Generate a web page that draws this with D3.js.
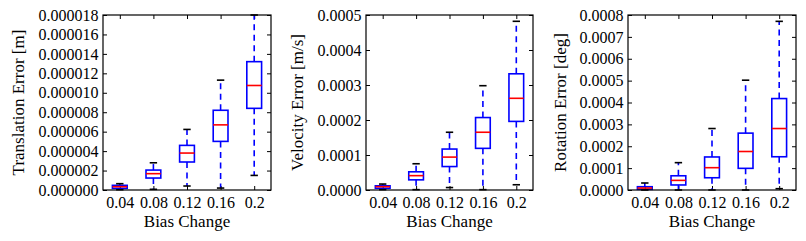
<!DOCTYPE html>
<html>
<head>
<meta charset="utf-8">
<script src="https://cdn.jsdelivr.net/npm/d3@7"></script>
<style>
  body { margin: 0; background: #fff; }
  svg { display: block; }
  text { font-family: "Liberation Serif", "DejaVu Serif", serif; fill: #000; }
</style>
</head>
<body>
<svg id="vis" width="806" height="241"></svg>
<script>
// categories on the x axis
var categories = ["0.04", "0.08", "0.12", "0.16", "0.2"];

// five-number summaries per category: [lower cap, q1, median, q3, upper cap]
var translation = [
    [0.03e-6, 0.17e-6, 0.34e-6, 0.48e-6, 0.65e-6],
    [0.07e-6, 1.23e-6, 1.68e-6, 2.05e-6, 2.8e-6],
    [0.41e-6, 2.88e-6, 3.8e-6, 4.59e-6, 6.23e-6],
    [0.2e-6, 5.0e-6, 6.7e-6, 8.2e-6, 11.3e-6],
    [1.5e-6, 8.4e-6, 10.75e-6, 13.2e-6, 18.0e-6]
];
var velocity = [
    [0.01e-4, 0.05e-4, 0.095e-4, 0.12e-4, 0.17e-4],
    [0.01e-4, 0.29e-4, 0.41e-4, 0.52e-4, 0.75e-4],
    [0.07e-4, 0.67e-4, 0.94e-4, 1.17e-4, 1.65e-4],
    [0.01e-4, 1.19e-4, 1.65e-4, 2.07e-4, 2.98e-4],
    [0.15e-4, 1.96e-4, 2.62e-4, 3.32e-4, 4.82e-4]
];
var rotation = [
    [0.0, 0.03e-4, 0.09e-4, 0.15e-4, 0.32e-4],
    [0.0, 0.23e-4, 0.44e-4, 0.65e-4, 1.25e-4],
    [0.0, 0.56e-4, 1.02e-4, 1.51e-4, 2.81e-4],
    [0.0, 0.99e-4, 1.76e-4, 2.6e-4, 5.02e-4],
    [0.06e-4, 1.52e-4, 2.81e-4, 4.18e-4, 7.71e-4]
];

// y tick values
var transTicks = [0, 2e-6, 4e-6, 6e-6, 8e-6, 10e-6, 12e-6, 14e-6, 16e-6, 18e-6];
var velTicks = [0, 1e-4, 2e-4, 3e-4, 4e-4, 5e-4];
var rotTicks = [0, 1e-4, 2e-4, 3e-4, 4e-4, 5e-4, 6e-4, 7e-4, 8e-4];

var panels = [
    { stats: translation, ticks: transTicks, fmt: ".6f", label: "Translation Error [m]", x0: 103, x1: 271, lx: 18 },
    { stats: velocity, ticks: velTicks, fmt: ".4f", label: "Velocity Error [m/s]", x0: 366, x1: 533, lx: 297 },
    { stats: rotation, ticks: rotTicks, fmt: ".4f", label: "Rotation Error [deg]", x0: 628, x1: 796, lx: 560 }
];

var vis = d3.select("#vis");
var top_ = 15, bottom = 190;
var tickFont = 16, labelFont = 17;

function drawPanel(p) {
    var x = d3.scalePoint().domain(categories).range([p.x0, p.x1]).padding(0.5);
    var y = d3.scaleLinear()
        .domain([0, p.ticks[p.ticks.length - 1]])
        .range([bottom, top_]);
    var bw = x.step() * 0.44;
    var cw = bw / 2;

    var g = vis.append("g");

    // axes with inward ticks on all four sides
    var fmt = d3.format(p.fmt);
    g.append("g").attr("transform", `translate(${p.x0},0)`)
        .call(d3.axisLeft(y).tickValues(p.ticks).tickFormat(fmt).tickSizeInner(-4).tickSizeOuter(0).tickPadding(4.5));
    g.append("g").attr("transform", `translate(${p.x1},0)`)
        .call(d3.axisRight(y).tickValues(p.ticks).tickFormat("").tickSizeInner(-4).tickSizeOuter(0));
    g.append("g").attr("transform", `translate(0,${top_})`)
        .call(d3.axisTop(x).tickFormat("").tickSizeInner(-4).tickSizeOuter(0));
    g.append("g").attr("transform", `translate(0,${bottom})`)
        .call(d3.axisBottom(x).tickSizeInner(-4).tickSizeOuter(0).tickPadding(7));

    g.selectAll(".domain").remove();
    g.selectAll(".tick line").attr("stroke", "#000").attr("stroke-width", 1);
    g.selectAll(".tick text")
        .style("font-family", '"Liberation Serif", "DejaVu Serif", serif')
        .style("font-size", tickFont + "px")
        .attr("fill", "#111");

    // boxes
    var box = g.selectAll(".box").data(p.stats).enter().append("g")
        .attr("class", "box")
        .attr("transform", (d, i) => `translate(${x(categories[i])},0)`);

    box.append("line")
        .attr("y1", d => y(d[3])).attr("y2", d => y(d[4]))
        .attr("stroke", "#0000ff").attr("stroke-width", 1.6)
        .attr("stroke-dasharray", "6,4.5");
    box.append("line")
        .attr("y1", d => y(d[1])).attr("y2", d => y(d[0]))
        .attr("stroke", "#0000ff").attr("stroke-width", 1.6)
        .attr("stroke-dasharray", "6,4.5");
    box.append("rect")
        .attr("x", -bw / 2).attr("width", bw)
        .attr("y", d => y(d[3])).attr("height", d => y(d[1]) - y(d[3]))
        .attr("fill", "none").attr("stroke", "#0000ff").attr("stroke-width", 1.6);
    box.append("line")
        .attr("x1", -bw / 2).attr("x2", bw / 2)
        .attr("y1", d => y(d[2])).attr("y2", d => y(d[2]))
        .attr("stroke", "#ff0000").attr("stroke-width", 1.6);
    [0, 4].forEach(k => {
        box.append("line")
            .attr("x1", -cw / 2).attr("x2", cw / 2)
            .attr("y1", d => y(d[k])).attr("y2", d => y(d[k]))
            .attr("stroke", "#000").attr("stroke-width", 1.6);
    });

    // frame
    g.append("rect")
        .attr("x", p.x0).attr("y", top_)
        .attr("width", p.x1 - p.x0).attr("height", bottom - top_)
        .attr("fill", "none").attr("stroke", "#000").attr("stroke-width", 1.2);

    // labels
    g.append("text")
        .attr("x", (p.x0 + p.x1) / 2).attr("y", 227)
        .attr("text-anchor", "middle")
        .attr("fill", "#111")
        .style("font-size", labelFont + "px")
        .text("Bias Change");
    g.append("text")
        .attr("transform", `translate(${p.lx},${(top_ + bottom) / 2}) rotate(-90)`)
        .attr("text-anchor", "middle")
        .attr("dy", "0.35em")
        .attr("fill", "#111")
        .style("font-size", labelFont + "px")
        .text(p.label);
}

panels.forEach(drawPanel);
</script>
</body>
</html>
